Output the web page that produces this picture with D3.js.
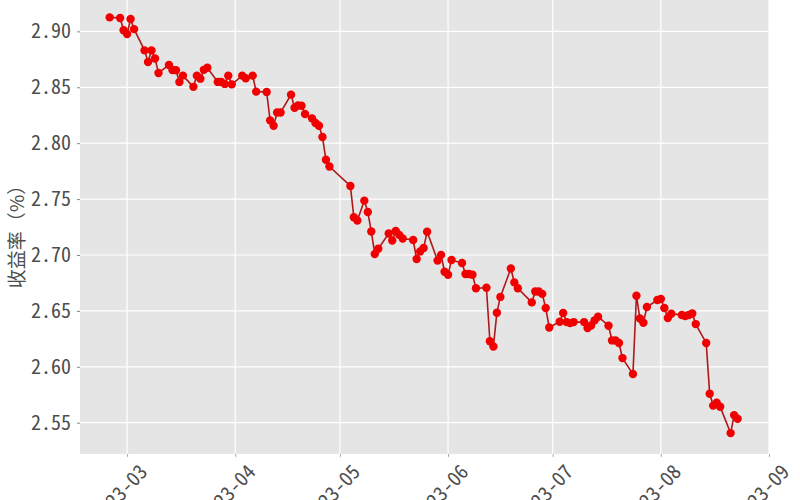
<!DOCTYPE html>
<html><head><meta charset="utf-8">
<script src="https://cdn.jsdelivr.net/npm/d3@7"></script>
<style>
html,body{margin:0;padding:0;background:#fff;}
svg{display:block;}
</style></head>
<body>
<svg id="chart" width="800" height="500"></svg>
<script>
const dates = ["2023-02-24","2023-02-27","2023-02-28","2023-03-01","2023-03-02","2023-03-03",
"2023-03-06","2023-03-07","2023-03-08","2023-03-09","2023-03-10",
"2023-03-13","2023-03-14","2023-03-15","2023-03-16","2023-03-17",
"2023-03-20","2023-03-21","2023-03-22","2023-03-23","2023-03-24",
"2023-03-27","2023-03-28","2023-03-29","2023-03-30","2023-03-31",
"2023-04-03","2023-04-04","2023-04-06","2023-04-07",
"2023-04-10","2023-04-11","2023-04-12","2023-04-13","2023-04-14",
"2023-04-17","2023-04-18","2023-04-19","2023-04-20","2023-04-21",
"2023-04-23","2023-04-24","2023-04-25","2023-04-26","2023-04-27","2023-04-28",
"2023-05-04","2023-05-05","2023-05-06",
"2023-05-08","2023-05-09","2023-05-10","2023-05-11","2023-05-12",
"2023-05-15","2023-05-16","2023-05-17","2023-05-18","2023-05-19",
"2023-05-22","2023-05-23","2023-05-24","2023-05-25","2023-05-26",
"2023-05-29","2023-05-30","2023-05-31","2023-06-01","2023-06-02",
"2023-06-05","2023-06-06","2023-06-07","2023-06-08","2023-06-09",
"2023-06-12","2023-06-13","2023-06-14","2023-06-15","2023-06-16",
"2023-06-19","2023-06-20","2023-06-21",
"2023-06-25","2023-06-26","2023-06-27","2023-06-28","2023-06-29","2023-06-30",
"2023-07-03","2023-07-04","2023-07-05","2023-07-06","2023-07-07",
"2023-07-10","2023-07-11","2023-07-12","2023-07-13","2023-07-14",
"2023-07-17","2023-07-18","2023-07-19","2023-07-20","2023-07-21",
"2023-07-24","2023-07-25","2023-07-26","2023-07-27","2023-07-28",
"2023-07-31","2023-08-01","2023-08-02","2023-08-03","2023-08-04",
"2023-08-07","2023-08-08","2023-08-09","2023-08-10","2023-08-11",
"2023-08-14","2023-08-15","2023-08-16","2023-08-17","2023-08-18",
"2023-08-21","2023-08-22","2023-08-23"];

const yields = [2.9125,2.912,2.901,2.8977,2.911,2.902,
2.883,2.8726,2.883,2.8758,2.8628,
2.870,2.8655,2.8653,2.8548,2.8604,
2.8504,2.8604,2.8577,2.8656,2.8675,
2.8548,2.8548,2.853,2.8604,2.8526,
2.8604,2.8581,2.8604,2.8461,
2.8458,2.8204,2.8156,2.8275,2.8275,
2.8434,2.8317,2.8337,2.8335,2.8261,
2.8222,2.8181,2.8156,2.8055,2.7852,2.7791,
2.7617,2.7338,2.7309,
2.7486,2.7384,2.721,2.7009,2.7056,
2.7192,2.713,2.7214,2.718,2.7148,
2.7134,2.6964,2.7032,2.7062,2.7208,
2.695,2.7001,2.685,2.6823,2.6955,
2.6928,2.683,2.683,2.6823,2.6703,
2.6707,2.6229,2.6182,2.6484,2.6625,
2.6879,2.6755,2.6703,
2.6576,2.6674,2.6674,2.6652,2.6526,2.6352,
2.6403,2.6481,2.64,2.6391,2.64,
2.64,2.6347,2.637,2.6415,2.6448,
2.6367,2.6236,2.6236,2.6213,2.6078,
2.5935,2.6636,2.6432,2.6394,2.6535,
2.6597,2.6607,2.6526,2.6436,2.6475,
2.6463,2.6454,2.6463,2.6477,2.6382,
2.6213,2.5759,2.5653,2.5678,2.5643,
2.5407,2.5568,2.5535];

const yTicks = [2.55, 2.60, 2.65, 2.70, 2.75, 2.80, 2.85, 2.90];
const xTickLabels = ["2023-03","2023-04","2023-05","2023-06","2023-07","2023-08","2023-09"];
const xDomain = ["2023-02-15T12:00:00","2023-09-01T00:00:00"];
const yDomain = [2.5221, 2.9311];
const yTitle = "收益率（%）";

const parse = d3.timeParse("%Y-%m-%d");
const parseFull = d3.timeParse("%Y-%m-%dT%H:%M:%S");
const parseMonth = d3.timeParse("%Y-%m");
const data = dates.map((d,i)=>({date: parse(d), value: yields[i]}));

const panel = {left: 80, right: 769, top: -3.4, bottom: 453.9};
const svg = d3.select("#chart");
const font = "'Noto Sans Mono CJK SC','Noto Sans CJK SC','DejaVu Sans Mono',monospace";

const x = d3.scaleTime().domain(xDomain.map(parseFull)).range([panel.left, panel.right]);
const y = d3.scaleLinear().domain(yDomain).range([panel.bottom, panel.top]);

svg.append("rect").attr("x", panel.left).attr("y", panel.top)
  .attr("width", panel.right - panel.left).attr("height", panel.bottom - panel.top)
  .attr("fill", "#e5e5e5");

const xTicks = xTickLabels.map(parseMonth);

// grid
svg.append("g").selectAll("line").data(yTicks).join("line")
  .attr("x1", panel.left).attr("x2", panel.right)
  .attr("y1", d=>y(d)).attr("y2", d=>y(d))
  .attr("stroke", "#fff").attr("stroke-width", 1.2);
svg.append("g").selectAll("line").data(xTicks).join("line")
  .attr("y1", panel.top).attr("y2", panel.bottom)
  .attr("x1", d=>x(d)).attr("x2", d=>x(d))
  .attr("stroke", "#fff").attr("stroke-width", 1.2);

// y axis
const yAxis = svg.append("g").attr("transform", `translate(${panel.left},0)`)
  .call(d3.axisLeft(y).tickValues(yTicks).tickFormat(d3.format(".2f")).tickSize(3).tickPadding(6));
yAxis.select(".domain").remove();
yAxis.selectAll(".tick line").attr("stroke", "#888");
yAxis.selectAll("text").attr("fill", "#4d4d4d").style("font-family", font).style("font-size", "20px");

// x axis
const xAxis = svg.append("g").attr("transform", `translate(0,${panel.bottom})`)
  .call(d3.axisBottom(x).tickValues(xTicks).tickFormat(d3.timeFormat("%Y-%m")).tickSize(3));
xAxis.select(".domain").remove();
xAxis.selectAll(".tick line").attr("stroke", "#aaa");
xAxis.selectAll("text")
  .attr("fill", "#4d4d4d").style("font-family", font).style("font-size", "20px")
  .attr("text-anchor", "end").attr("dy", null).attr("y", null)
  .attr("transform", "translate(21,19) rotate(-47)");

// y title
svg.append("text").attr("transform", "translate(24,232) rotate(-90)")
  .attr("text-anchor", "middle").attr("fill", "#4d4d4d")
  .style("font-family", "'Noto Sans CJK SC',sans-serif").style("font-size", "19px")
  .text(yTitle);

// line and points
svg.append("path").datum(data)
  .attr("d", d3.line().x(d=>x(d.date)).y(d=>y(d.value)))
  .attr("fill", "none").attr("stroke", "#b01818").attr("stroke-width", 1.6);
svg.append("g").selectAll("circle").data(data).join("circle")
  .attr("cx", d=>x(d.date)).attr("cy", d=>y(d.value)).attr("r", 4.2)
  .attr("fill", "#f00000");
</script>
</body></html>
